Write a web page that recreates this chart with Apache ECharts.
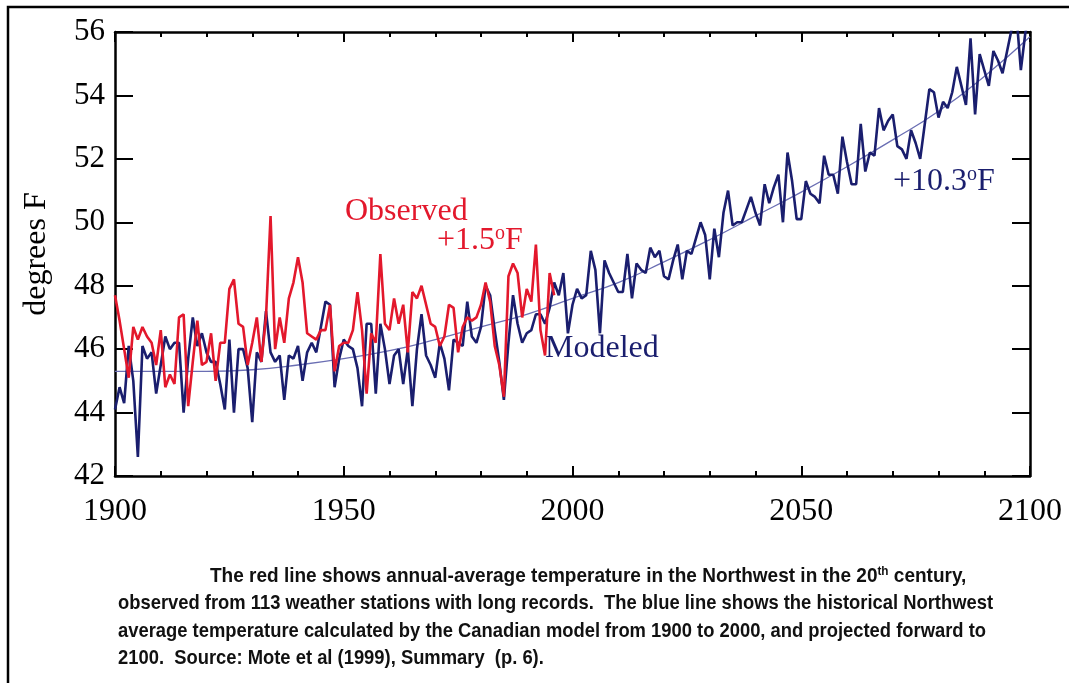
<!DOCTYPE html>
<html>
<head>
<meta charset="utf-8">
<script src="https://cdn.jsdelivr.net/npm/echarts@6/dist/echarts.min.js"></script>
<style>
html,body{margin:0;padding:0;background:#fff;}
#chart{width:1069px;height:683px;}
</style>
</head>
<body>
<div id="chart"></div>
<script>
// ---- data ----
const observedStartYear = 1900;
const observedTemps = [
  47.7, 46.9, 46.0, 45.1, 46.7, 46.3, 46.7, 46.4, 46.2, 45.5,
  46.6, 44.8, 45.2, 44.9, 47.0, 47.1, 44.2, 45.6, 46.9, 45.5,
  45.6, 46.5, 45.0, 46.2, 46.2, 47.9, 48.2, 46.8, 46.7, 45.5,
  46.2, 47.0, 45.6, 47.0, 50.2, 46.0, 47.0, 46.2, 47.6, 48.1,
  48.9, 48.1, 46.5, 46.4, 46.3, 46.6, 46.6, 47.4, 45.3, 46.1,
  46.2, 46.2, 46.6, 47.8, 46.6, 44.6, 46.5, 46.2, 49.0, 46.8,
  46.6, 47.6, 46.8, 47.4, 45.9, 47.8, 47.6, 48.0, 47.4, 46.8,
  46.7, 46.1, 46.4, 47.4, 47.3, 45.9, 46.7, 47.0, 46.9, 47.0,
  47.4, 48.1, 47.5, 46.1, 45.5, 44.5, 48.3, 48.7, 48.4, 47.0,
  47.9, 47.5, 49.3, 46.6, 45.8, 48.4, 47.7
];
const modeledStartYear = 1900;
const modeledTemps = [
  44.1, 44.8, 44.3, 46.1, 45.0, 42.6, 46.1, 45.7, 45.9, 44.6,
  45.5, 46.4, 46.0, 46.2, 46.2, 44.0, 45.7, 47.0, 46.1, 46.5,
  45.9, 45.6, 45.6, 44.9, 44.1, 46.3, 44.0, 46.0, 46.0, 45.4,
  43.7, 45.9, 45.6, 47.2, 45.9, 45.6, 45.8, 44.4, 45.8, 45.7,
  46.1, 45.0, 45.9, 46.2, 45.9, 46.7, 47.5, 47.4, 44.8, 45.7,
  46.3, 46.1, 46.0, 45.4, 44.2, 46.8, 46.8, 44.6, 46.8, 46.0,
  44.9, 45.8, 46.0, 44.9, 46.0, 44.2, 46.0, 47.1, 45.8, 45.5,
  45.1, 46.2, 45.7, 44.7, 46.3, 46.2, 46.1, 47.5, 46.4, 46.2,
  46.7, 48.0, 47.7, 46.6, 45.6, 44.4, 46.2, 47.7, 46.8, 46.2,
  46.5, 46.6, 47.1, 47.1, 46.8, 47.3, 48.1, 47.7, 48.4, 46.5,
  47.4, 47.9, 47.6, 47.7, 49.1, 48.5, 46.5, 48.8, 48.4, 48.1,
  47.8, 47.8, 49.0, 47.6, 48.7, 48.5, 48.4, 49.2, 48.9, 49.1,
  48.3, 48.2, 48.8, 49.3, 48.2, 49.1, 49.0, 49.5, 50.0, 49.6,
  48.2, 49.8, 48.9, 50.3, 51.0, 49.9, 50.0, 50.0, 50.4, 50.8,
  50.3, 49.9, 51.2, 50.6, 51.1, 51.5, 50.0, 52.2, 51.3, 50.1,
  50.1, 51.3, 50.9, 50.8, 50.6, 52.1, 51.5, 51.5, 50.9, 52.7,
  51.9, 51.2, 51.2, 53.1, 51.6, 52.2, 52.1, 53.6, 52.9, 53.2,
  53.4, 52.4, 52.3, 52.0, 52.9, 52.5, 52.0, 53.1, 54.2, 54.1,
  53.3, 53.8, 53.6, 54.1, 54.9, 54.3, 53.7, 55.8, 53.4, 55.3,
  54.8, 54.3, 55.4, 55.1, 54.7, 55.4, 56.1, 56.6, 54.8, 56.0, 56.5
];
const trendYears = [1900,1910,1920,1930,1940,1950,1960,1970,1980,1990,2000,2010,2020,2030,2040,2050,2060,2070,2080,2090,2100];
const trendTemps = [45.3,45.3,45.3,45.35,45.5,45.7,45.95,46.3,46.7,47.1,47.6,48.1,48.75,49.45,50.2,50.95,51.75,52.6,53.5,54.6,55.85];
const xTicks = [1900, 1950, 2000, 2050, 2100];
const yTicks = [42, 44, 46, 48, 50, 52, 54, 56];
const captionLines = [
  'The red line shows annual-average temperature in the Northwest in the 20{s|th} century,',
  'observed from 113 weather stations with long records.  The blue line shows the historical Northwest',
  'average temperature calculated by the Canadian model from 1900 to 2000, and projected forward to',
  '2100.  Source: Mote et al (1999), Summary  (p. 6).'
];

// ---- chart ----
const RED = '#e3182c';
const NAVY = '#1a1e6e';
const TREND = '#6a6eb3';
const SERIF = "'Liberation Serif','Times New Roman',serif";
const SANS = "'Liberation Sans',Arial,sans-serif";

const observedData = observedTemps.map((v, i) => [observedStartYear + i, v]);
const modeledData = modeledTemps.map((v, i) => [modeledStartYear + i, v]);
const trendData = trendYears.map((y, i) => [y, trendTemps[i]]);

const chart = echarts.init(document.getElementById('chart'), null, {renderer: 'canvas'});

const axisCommon = {
  type: 'value', min: xTicks[0], max: xTicks[xTicks.length - 1], interval: 50,
  axisLine: {show: true, onZero: false, lineStyle: {color: '#000', width: 2.5}},
  axisTick: {show: true, inside: true, length: 10, lineStyle: {color: '#000', width: 2}},
  minorTick: {show: true, splitNumber: 5, length: 5, lineStyle: {color: '#000', width: 2}},
  splitLine: {show: false}
};
const yCommon = {
  type: 'value', min: yTicks[0], max: yTicks[yTicks.length - 1], interval: 2,
  axisLine: {show: true, onZero: false, lineStyle: {color: '#000', width: 2.5}},
  axisTick: {show: true, inside: true, length: 18, lineStyle: {color: '#000', width: 2}},
  splitLine: {show: false}
};

const captionStyle = {fill: '#111', font: 'bold 21px ' + SANS};
const captionScale = 0.875;

chart.setOption({
  backgroundColor: '#ffffff',
  animation: false,
  grid: {left: 115, right: 39, top: 32, bottom: 207},
  xAxis: [
    Object.assign({}, axisCommon, {
      position: 'bottom',
      axisLabel: {show: true, margin: 20, color: '#000', fontFamily: SERIF, fontSize: 32,
        formatter: v => String(v)}
    }),
    Object.assign({}, axisCommon, {position: 'top', axisLabel: {show: false}})
  ],
  yAxis: [
    Object.assign({}, yCommon, {
      position: 'left',
      name: 'degrees F', nameLocation: 'middle', nameGap: 62, nameRotate: 90,
      nameTextStyle: {color: '#000', fontFamily: SERIF, fontSize: 32},
      axisLabel: {show: true, margin: 10, color: '#000', fontFamily: SERIF, fontSize: 31}
    }),
    Object.assign({}, yCommon, {position: 'right', axisLabel: {show: false}})
  ],
  series: [
    {
      name: 'Trend', type: 'line', data: trendData, smooth: true, showSymbol: false,
      lineStyle: {color: TREND, width: 1.3}, clip: true, z: 1
    },
    {
      name: 'Modeled', type: 'line', data: modeledData, showSymbol: false,
      lineStyle: {color: NAVY, width: 2.6}, clip: true, z: 2
    },
    {
      name: 'Observed', type: 'line', data: observedData, showSymbol: false,
      lineStyle: {color: RED, width: 2.6}, clip: true, z: 3
    }
  ],
  graphic: [
    {type: 'rect', shape: {x: 8, y: 7, width: 1200, height: 800}, style: {fill: 'none', stroke: '#000', lineWidth: 2.5}, silent: true},
    {type: 'text', left: 345, top: 196, style: {text: 'Observed', fill: RED, font: '32px ' + SERIF}},
    {type: 'text', left: 437, top: 224, style: {
      text: '+1.5{s|o}F', fill: RED, font: '32px ' + SERIF,
      rich: {s: {fontSize: 20, fontFamily: SERIF, fill: RED, padding: [0, 0, 14, 0]}}
    }},
    {type: 'text', left: 545, top: 333, style: {text: 'Modeled', fill: NAVY, font: '32px ' + SERIF}},
    {type: 'text', left: 893, top: 165, style: {
      text: '+10.3{s|o}F', fill: NAVY, font: '32px ' + SERIF,
      rich: {s: {fontSize: 20, fontFamily: SERIF, fill: NAVY, padding: [0, 0, 14, 0]}}
    }},
    {type: 'text', x: 210, y: 565, scaleX: 0.905, style: Object.assign({
      text: captionLines[0],
      rich: {s: {fontSize: 13, fontWeight: 'bold', fontFamily: SANS, fill: '#111', padding: [0, 0, 10, 0]}}
    }, captionStyle)},
    {type: 'text', x: 118, y: 593, scaleX: captionScale, style: Object.assign({text: captionLines[1]}, captionStyle)},
    {type: 'text', x: 118, y: 621, scaleX: captionScale, style: Object.assign({text: captionLines[2]}, captionStyle)},
    {type: 'text', x: 118, y: 648, scaleX: captionScale, style: Object.assign({text: captionLines[3]}, captionStyle)}
  ]
});
</script>
</body>
</html>
